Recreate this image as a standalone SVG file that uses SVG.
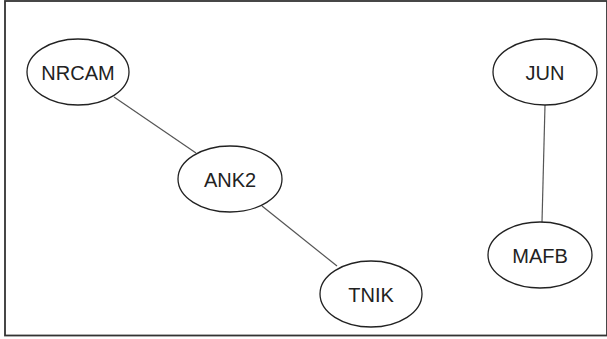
<svg xmlns="http://www.w3.org/2000/svg" width="607" height="339" viewBox="0 0 607 339">
  <style>
    .frame { fill: #ffffff; stroke: #333333; stroke-width: 1.8; }
    .node ellipse { fill: #ffffff; stroke: #222222; stroke-width: 1.3; }
    .node text { font-family: "Liberation Sans", Arial, sans-serif; font-size: 20px; fill: #222222; text-anchor: middle; }
    .edges line { stroke: #555555; stroke-width: 1.2; }
  </style>
  <rect class="frame" x="5" y="1" width="602" height="334.5"/>
  <g class="edges">
    <line x1="114" y1="97" x2="196" y2="153"/>
    <line x1="262" y1="206" x2="337" y2="266"/>
    <line x1="545" y1="105" x2="542" y2="222"/>
  </g>
  <g id="NRCAM" class="node">
    <ellipse cx="78" cy="72" rx="51" ry="33"/>
    <text x="78" y="79.5">NRCAM</text>
  </g>
  <g id="ANK2" class="node">
    <ellipse cx="230" cy="179" rx="52" ry="33"/>
    <text x="230" y="186.5">ANK2</text>
  </g>
  <g id="TNIK" class="node">
    <ellipse cx="371" cy="294" rx="51" ry="33"/>
    <text x="371" y="301.5">TNIK</text>
  </g>
  <g id="JUN" class="node">
    <ellipse cx="545" cy="72" rx="52" ry="33"/>
    <text x="545" y="79.5">JUN</text>
  </g>
  <g id="MAFB" class="node">
    <ellipse cx="540" cy="255" rx="52" ry="33"/>
    <text x="540" y="262.5">MAFB</text>
  </g>
</svg>
